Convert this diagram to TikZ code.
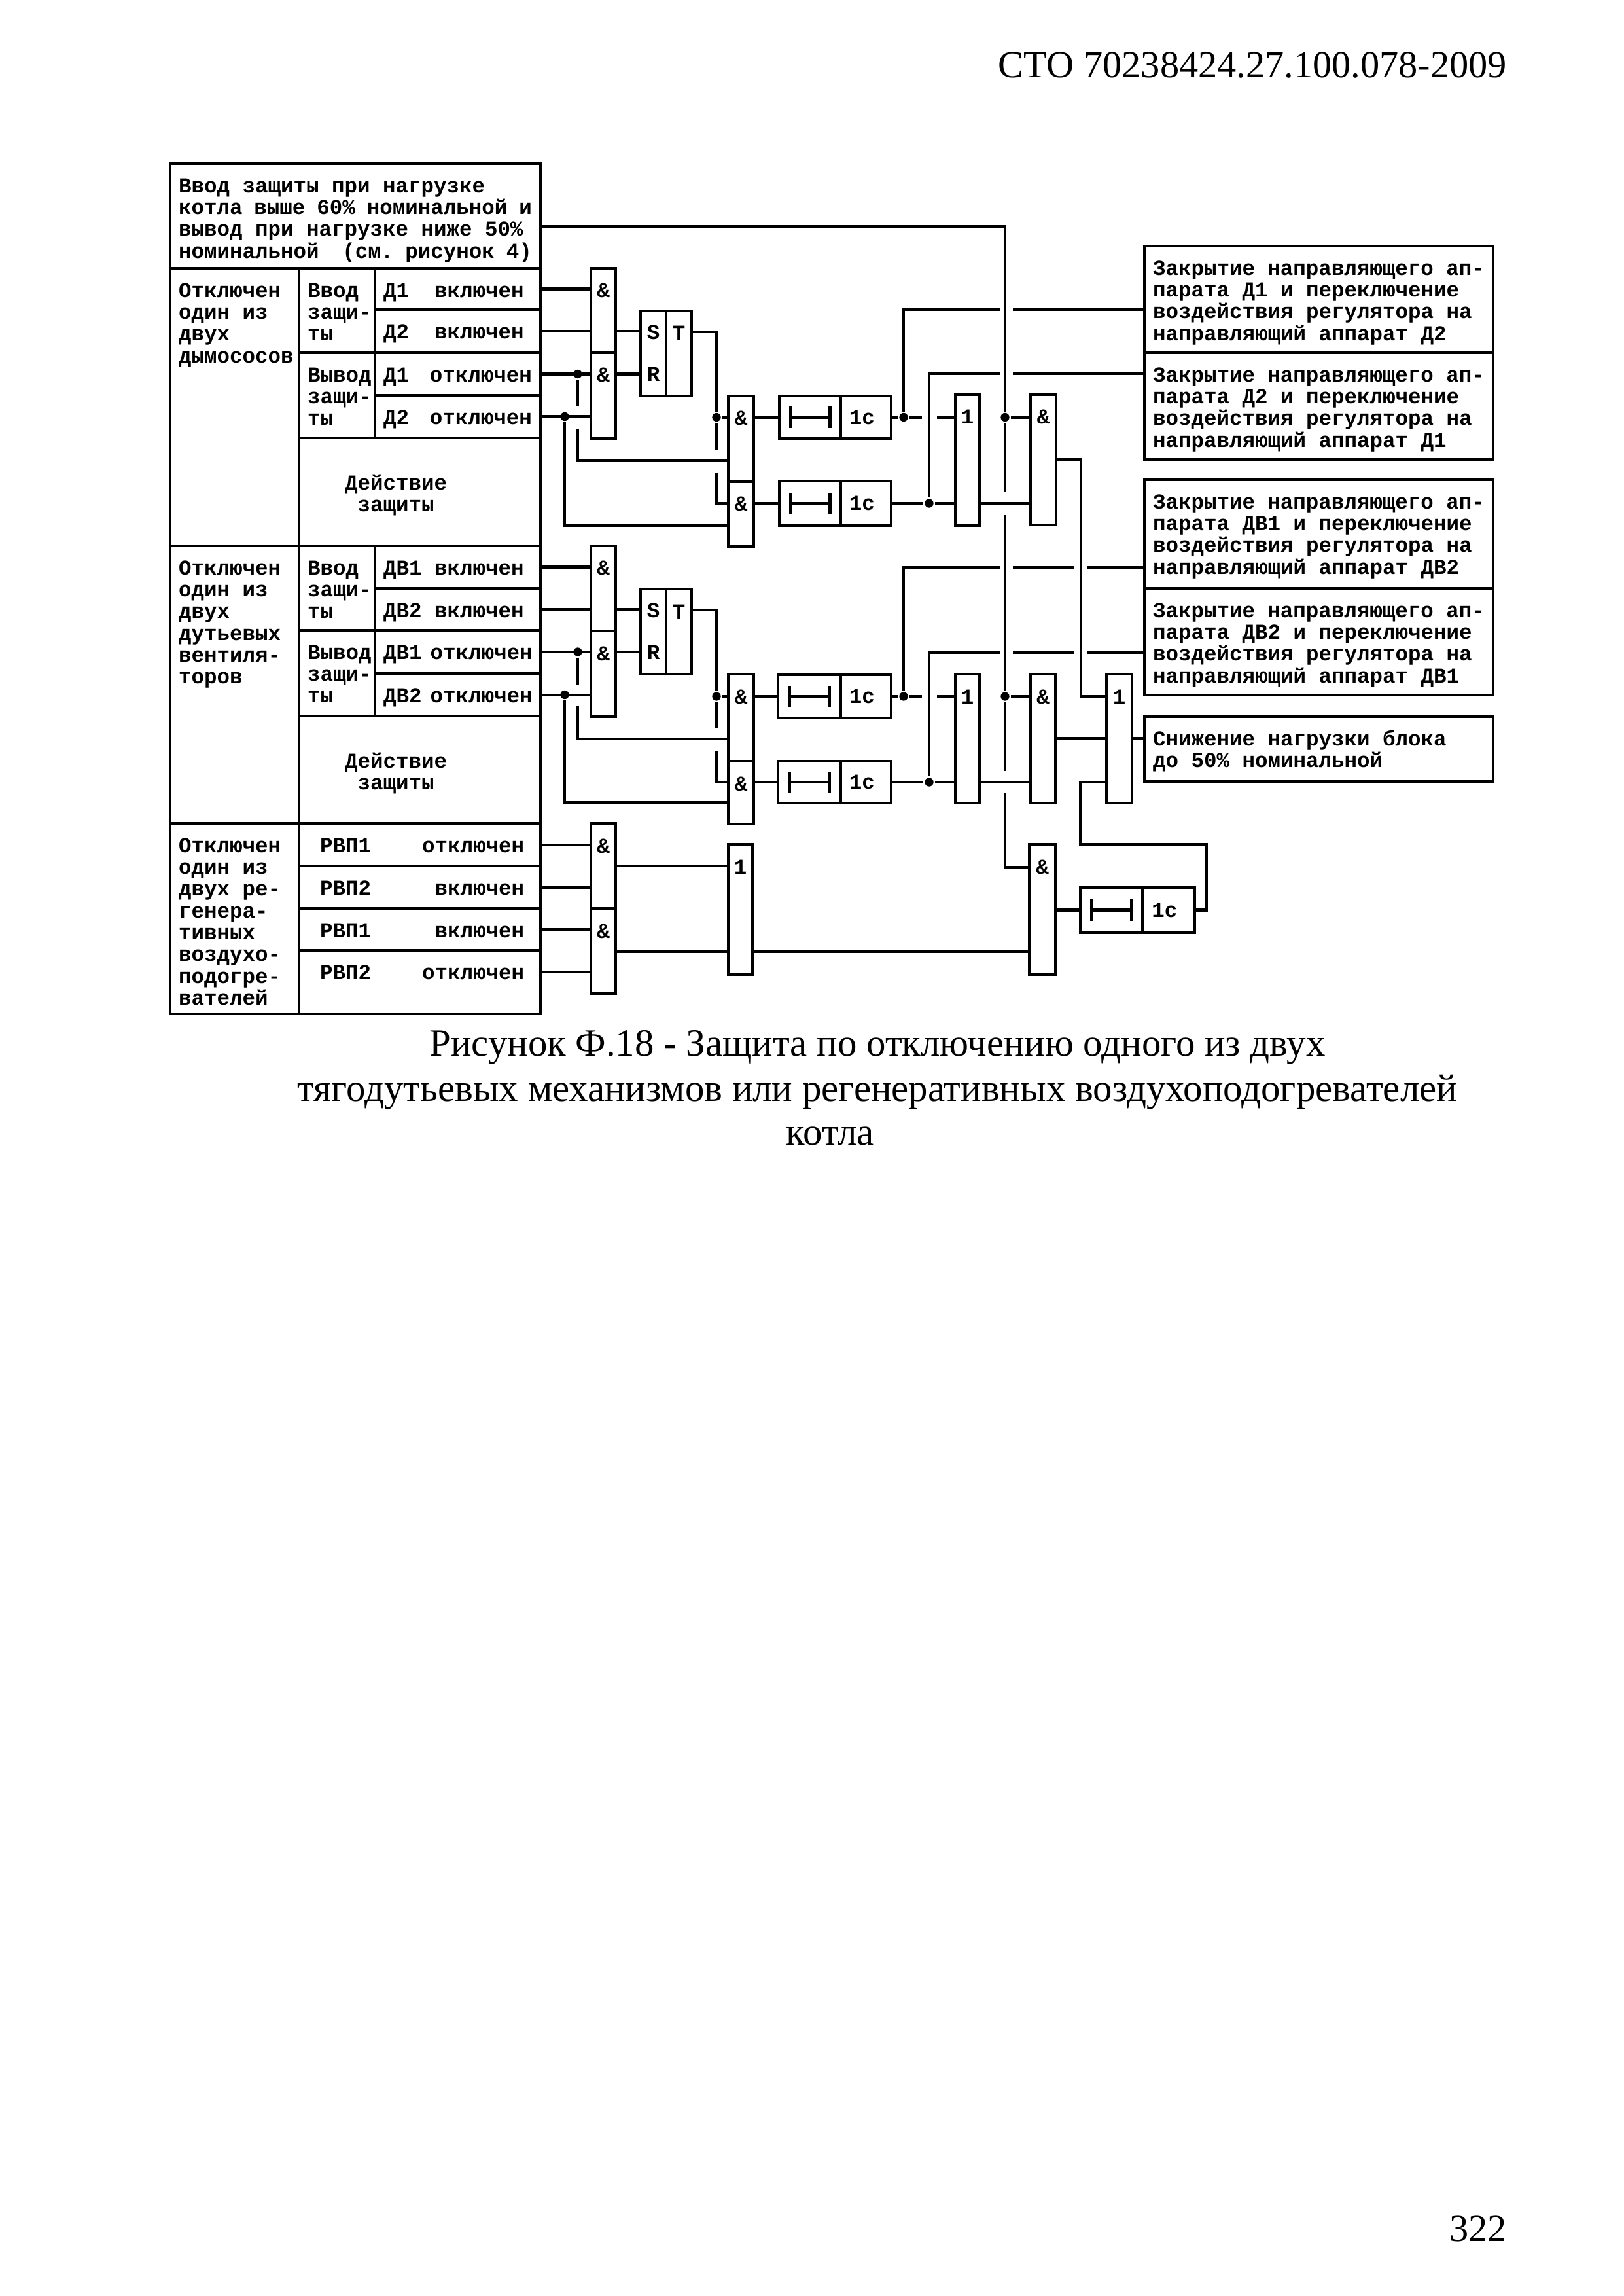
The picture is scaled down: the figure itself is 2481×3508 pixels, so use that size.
\documentclass[tikz,border=0pt]{standalone}
\usepackage{fontspec}
\setmainfont{Liberation Serif}
\newfontfamily\schfont{Liberation Mono}
\usepackage{tikz}

\begin{document}
\begin{tikzpicture}[
    x=0.24pt, y=-0.24pt, line width=1pt,
    txt/.style={font=\schfont\bfseries\fontsize{7.8}{8}\selectfont},
    box/.style 2 args={draw, txt, anchor=north west, outer sep=0pt, inner sep=0pt, minimum width=#1*0.24pt, minimum height=#2*0.24pt},
    cell/.style 2 args={box={#1}{#2}, align=flush left, inner xsep=3.1pt, text width=(#1-26)*0.24pt, text height=10.6pt, text depth=(#2-44)*0.24pt},
    act/.style={text height=19pt, text depth=20.6pt},
    gate/.style 2 args={box={#1}{#2}, text height=10.8pt, text depth=(#2-45)*0.24pt},
    delaybox/.style 2 args={box={#1}{#2}, path picture={
        \draw ([xshift=-7.3pt,yshift=-3.9pt]path picture bounding box.center) -- ++(0pt,7.8pt);
        \draw ([xshift=7.3pt,yshift=-3.9pt]path picture bounding box.center) -- ++(0pt,7.8pt);
        \draw ([xshift=-7.3pt]path picture bounding box.center) -- ([xshift=7.3pt]path picture bounding box.center);}},
    dot/.style={circle, fill, inner sep=0pt, minimum size=3.2pt},
    capt/.style={font=\fontsize{14.13}{16.6}\selectfont, align=center, inner sep=0pt},
    pagetxt/.style={font=\fontsize{14}{16}\selectfont, anchor=east, inner sep=0pt}
]
\useasboundingbox (0,0) rectangle (2481,3508);

\node[pagetxt] (Head) at (2305,100) {СТО 70238424.27.100.078-2009};
\node[capt] (Cap) at (1341,1635) {Рисунок Ф.18 - Защита по отключению одного из двух\\тягодутьевых механизмов или регенеративных воздухоподогревателей};
\node[capt] (Cap2) at (1269,1736) {котла};
\node[pagetxt] (Page) at (2305,3405) {322};

\node[cell={566}{160}] (Top) at (260,250) {Ввод защиты при нагрузке\\котла~выше~60\%~номинальной~и\\вывод при нагрузке ниже 50\%\\номинальной~~(см.~рисунок~4)};

\node[cell={197}{424}] (K1) at (260,410) {Отключен\\один из\\двух\\дымососов};
\node[cell={116}{129}] (Vv1) at (457,410) {Ввод\\\mbox{защи-}\\ты};
\node[cell={116}{130}] (Vy1) at (457,539) {Вывод\\\mbox{защи-}\\ты};
\node[cell={253}{63}] (Don1) at (573,410) {Д1~~включен};
\node[cell={253}{66}] (Don2) at (573,473) {Д2~~включен};
\node[cell={253}{65}] (Dof1) at (573,539) {Д1~~отключен};
\node[cell={253}{65}] (Dof2) at (573,604) {Д2~~отключен};
\node[cell={369}{165}, act] (Act1) at (457,669) {\hspace*{13.7pt}Действие\\\hspace*{18.4pt}защиты};

\node[cell={197}{424}] (K2) at (260,834) {Отключен\\один из\\двух\\дутьевых\\вентиля-\\торов};
\node[cell={116}{129}] (Vv2) at (457,834) {Ввод\\\mbox{защи-}\\ты};
\node[cell={116}{131}] (Vy2) at (457,963) {Вывод\\\mbox{защи-}\\ты};
\node[cell={253}{65}] (Von1) at (573,834) {ДВ1~включен};
\node[cell={253}{64}] (Von2) at (573,899) {ДВ2~включен};
\node[cell={253}{66}] (Vof1) at (573,963) {ДВ1~отключен};
\node[cell={253}{65}] (Vof2) at (573,1029) {ДВ2~отключен};
\node[cell={369}{164}, act] (Act2) at (457,1094) {\hspace*{13.7pt}Действие\\\hspace*{18.4pt}защиты};

\node[cell={197}{291}] (K3) at (260,1258) {Отключен\\один из\\двух ре-\\генера-\\тивных\\воздухо-\\подогре-\\вателей};
\node[cell={369}{65}] (R1) at (457,1258) {\hspace*{4.6pt}РВП1~~~~отключен};
\node[cell={369}{65}] (R2) at (457,1323) {\hspace*{4.6pt}РВП2~~~~~включен};
\node[cell={369}{64}] (R3) at (457,1388) {\hspace*{4.6pt}РВП1~~~~~включен};
\node[cell={369}{97}] (R4) at (457,1452) {\hspace*{4.6pt}РВП2~~~~отключен};

\node[cell={533}{163}] (Z1) at (1749,376) {Закрытие~направляющего~ап-\\парата Д1 и переключение\\воздействия регулятора на\\направляющий аппарат Д2};
\node[cell={533}{163}] (Z2) at (1749,539) {Закрытие~направляющего~ап-\\парата Д2 и переключение\\воздействия регулятора на\\направляющий аппарат Д1};
\node[cell={533}{166}] (Z3) at (1749,733) {Закрытие~направляющего~ап-\\парата ДВ1 и переключение\\воздействия регулятора на\\направляющий аппарат ДВ2};
\node[cell={533}{163}] (Z4) at (1749,899) {Закрытие~направляющего~ап-\\парата ДВ2 и переключение\\воздействия регулятора на\\направляющий аппарат ДВ1};
\node[cell={533}{99}] (Z5) at (1749,1095) {Снижение нагрузки блока\\до 50\% номинальной};

\node[gate={38}{129}] (GA1) at (903,410) {\&};
\node[gate={38}{131}] (GB1) at (903,539) {\&};
\node[box={39}{130}, align=center] (SR1) at (979,475) {S\\[7.4pt]R};
\node[gate={39}{130}] (T1) at (1018,475) {T};
\node[gate={39}{131}] (GC1) at (1113,605) {\&};
\node[gate={39}{99}] (GD1) at (1113,736) {\&};
\node[delaybox={94}{65}] (Ta1) at (1191,605) {};
\node[box={77}{65}] (Tb1) at (1285,605) {1с\kern3pt};
\node[delaybox={94}{68}] (Ta2) at (1191,735) {};
\node[box={77}{68}] (Tb2) at (1285,735) {1с\kern3pt};
\node[gate={37}{200}] (O1) at (1460,603) {1};
\node[gate={39}{199}] (GE1) at (1575,603) {\&};

\node[gate={38}{130}] (GA2) at (903,834) {\&};
\node[gate={38}{131}] (GB2) at (903,964) {\&};
\node[box={39}{130}, align=center] (SR2) at (979,900) {S\\[7.4pt]R};
\node[gate={39}{130}] (T2) at (1018,900) {T};
\node[gate={39}{133}] (GC2) at (1113,1030) {\&};
\node[gate={39}{96}] (GD2) at (1113,1163) {\&};
\node[delaybox={96}{66}] (Ta3) at (1189,1031) {};
\node[box={77}{66}] (Tb3) at (1285,1031) {1с\kern3pt};
\node[delaybox={96}{64}] (Ta4) at (1189,1163) {};
\node[box={77}{64}] (Tb4) at (1285,1163) {1с\kern3pt};
\node[gate={37}{197}] (O2) at (1460,1030) {1};
\node[gate={38}{197}] (GE2) at (1575,1030) {\&};
\node[gate={39}{197}] (O3) at (1691,1030) {1};

\node[gate={38}{130}] (GA3) at (903,1258) {\&};
\node[gate={38}{130}] (GB3) at (903,1388) {\&};
\node[gate={37}{199}] (O4) at (1113,1290) {1};
\node[gate={40}{199}] (GF) at (1573,1290) {\&};
\node[delaybox={95}{69}] (Ta5) at (1651,1356) {};
\node[box={80}{69}] (Tb5) at (1746,1356) {1с\kern3pt};

\node[dot] (P1) at (883,571.5) {};
\node[dot] (P2) at (863,636.5) {};
\node[dot] (P3) at (1095,637.5) {};
\node[dot] (P4) at (1381,637.5) {};
\node[dot] (P5) at (1420,769) {};
\node[dot] (P6) at (1536,637.5) {};
\node[dot] (P7) at (883,996) {};
\node[dot] (P8) at (863,1061.5) {};
\node[dot] (P9) at (1095,1064) {};
\node[dot] (P10) at (1381,1064) {};
\node[dot] (P11) at (1420,1195) {};
\node[dot] (P12) at (1536,1064) {};

\coordinate (A1) at (883,621);
\coordinate (A2) at (883,655);
\coordinate (A3) at (1095,687);
\coordinate (A4) at (1095,722);
\coordinate (A5) at (1409,637.5);
\coordinate (A6) at (1432,637.5);
\coordinate (A7) at (1528,473);
\coordinate (A8) at (1548,473);
\coordinate (A9) at (1528,571);
\coordinate (A10) at (1548,571);
\coordinate (A11) at (1536,752);
\coordinate (A12) at (1536,787);
\coordinate (B1) at (883,1046);
\coordinate (B2) at (883,1078);
\coordinate (B3) at (1095,1112);
\coordinate (B4) at (1095,1147);
\coordinate (B5) at (1409,1064);
\coordinate (B6) at (1432,1064);
\coordinate (B7) at (1528,867);
\coordinate (B8) at (1548,867);
\coordinate (B9) at (1642,867);
\coordinate (B10) at (1662,867);
\coordinate (B11) at (1528,997);
\coordinate (B12) at (1548,997);
\coordinate (B13) at (1642,997);
\coordinate (B14) at (1662,997);
\coordinate (B15) at (1536,1178);
\coordinate (B16) at (1536,1212);
\coordinate (F1) at (1844,1290);
\coordinate (F2) at (1651,1195);
\coordinate (F3) at (1652,1064);
\coordinate (R4x) at (826,1485);

\draw (Don1.east) -- (GA1.west |- Don1.east);
\draw (Don2.east) -- (GA1.west |- Don2.east);
\draw (Dof1.east) -- (GB1.west |- Dof1.east);
\draw (Dof2.east) -- (GB1.west |- Dof2.east);
\draw (GA1.east |- Don2.east) -- (SR1.west |- Don2.east);
\draw (GB1.east |- Dof1.east) -- (SR1.west |- Dof1.east);
\draw (P1) -- (A1);
\draw (A2) |- (GC1.west |- 0,704);
\draw (P2) |- (GD1.west |- 0,803);
\draw (T1.east |- 0,507) -| (P3);
\draw (P3) -- (GC1.west |- P3);
\draw (P3) -- (A3);
\draw (A4) |- (GD1.west |- P5);
\draw (GC1.east |- Ta1.west) -- (Ta1.west);
\draw (GD1.east |- Ta2.west) -- (Ta2.west);
\draw (Tb1.east) -- (P4);
\draw (P4) -- (A5);
\draw (A6) -- (O1.west |- A6);
\draw (P4) |- (A7);
\draw (A8) -- (Z1.west |- A8);
\draw (Tb2.east) -- (P5);
\draw (P5) -- (O1.west |- P5);
\draw (P5) |- (A9);
\draw (A10) -- (Z2.west |- A10);
\draw (O1.east |- P5) -- (GE1.west |- P5);
\draw (Top.east |- 0,346) -| (P6);
\draw (P6) -- (GE1.west |- P6);
\draw (P6) -- (A11);
\draw (A12) -- (P12);
\draw (GE1.east |- 0,702) -| (F3) -- (O3.west |- F3);

\draw (Von1.east) -- (GA2.west |- Von1.east);
\draw (Von2.east) -- (GA2.west |- Von2.east);
\draw (Vof1.east) -- (GB2.west |- Vof1.east);
\draw (Vof2.east) -- (GB2.west |- Vof2.east);
\draw (GA2.east |- Von2.east) -- (SR2.west |- Von2.east);
\draw (GB2.east |- Vof1.east) -- (SR2.west |- Vof1.east);
\draw (P7) -- (B1);
\draw (B2) |- (GC2.west |- 0,1129);
\draw (P8) |- (GD2.west |- 0,1226);
\draw (T2.east |- 0,932) -| (P9);
\draw (P9) -- (GC2.west |- P9);
\draw (P9) -- (B3);
\draw (B4) |- (GD2.west |- P11);
\draw (GC2.east |- Ta3.west) -- (Ta3.west);
\draw (GD2.east |- Ta4.west) -- (Ta4.west);
\draw (Tb3.east) -- (P10);
\draw (P10) -- (B5);
\draw (B6) -- (O2.west |- B6);
\draw (P10) |- (B7);
\draw (B8) -- (B9);
\draw (B10) -- (Z3.west |- B10);
\draw (Tb4.east) -- (P11);
\draw (P11) -- (O2.west |- P11);
\draw (P11) |- (B11);
\draw (B12) -- (B13);
\draw (B14) -- (Z4.west |- B14);
\draw (O2.east |- P11) -- (GE2.west |- P11);
\draw (P12) -- (GE2.west |- P12);
\draw (P12) -- (B15);
\draw (B16) |- (GF.west |- 0,1325);
\draw (GE2.east) -- (O3.west);
\draw (O3.east) -- (Z5.west |- O3.east);

\draw (R1.east) -- (GA3.west |- R1.east);
\draw (R2.east) -- (GA3.west |- R2.east);
\draw (R3.east) -- (GB3.west |- R3.east);
\draw (R4x) -- (GB3.west |- R4x);
\draw (GA3.east |- 0,1323) -- (O4.west |- 0,1323);
\draw (GB3.east |- 0,1454) -- (O4.west |- 0,1454);
\draw (O4.east |- 0,1454) -- (GF.west |- 0,1454);
\draw (GF.east |- Ta5.west) -- (Ta5.west);
\draw (Tb5.east) -| (F1) -| (F2) -- (O3.west |- F2);
\end{tikzpicture}
\end{document}
